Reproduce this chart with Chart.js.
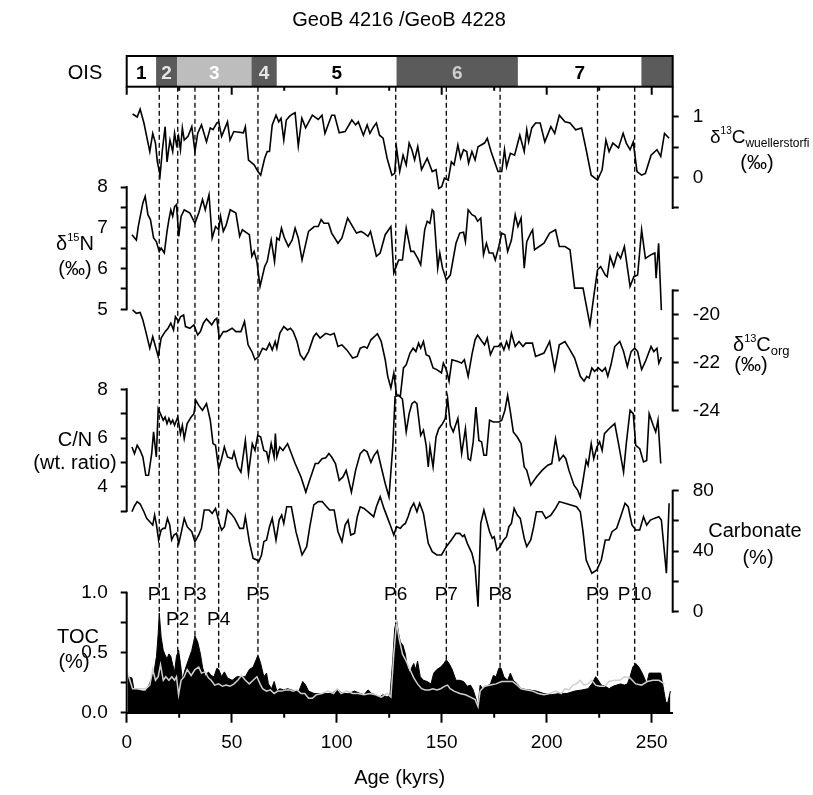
<!DOCTYPE html>
<html>
<head>
<meta charset="utf-8">
<script src="https://cdn.jsdelivr.net/npm/chart.js@4"></script>
<style>
  html, body { margin: 0; padding: 0; background: #fff; }
  canvas { display: block; }
</style>
</head>
<body>
<canvas id="chart" width="813" height="795"></canvas>
<script>
// GeoB 4216 / GeoB 4228 - stacked down-core records against age (kyrs)

// --- data ---------------------------------------------------------------
const wuelAge = [2.8, 5.0, 6.4, 8.2, 11, 12.4, 13.7, 14.6, 15.9, 17, 18.3, 19.2, 20.6, 21.9, 22.8, 23.7, 24.7, 25.6, 26.5, 27.4, 29.2, 31, 32.5, 33.8, 35.6, 38, 39.8, 41.1, 42.9, 43.8, 45.2, 48, 49.2, 51, 55.6, 56.5, 58, 60.7, 62.5, 63.8, 65.7, 66.9, 68, 69.3, 71.1, 72.4, 73.5, 74.8, 76, 77.5, 79, 80.2, 81.7, 83.4, 85.2, 88.4, 91.2, 93, 94.4, 97.6, 99, 101.2, 104, 107.2, 109, 110.3, 112.7, 114.5, 115.8, 117.6, 118.9, 120.4, 122.1, 124, 126.3, 127.6, 128.5, 130, 131.6, 133.1, 134.5, 135.8, 137.1, 138.6, 140.4, 143.1, 145.5, 147.3, 148.6, 150, 151.3, 153.1, 154.6, 155.9, 157.7, 159, 160.4, 161.9, 162.8, 164.4, 165.9, 167.3, 170.4, 171.7, 173.5, 175.4, 176.8, 178.6, 179.9, 180.9, 182.7, 184.7, 187.2, 189.3, 190.5, 191.4, 192.9, 194.7, 196.9, 199.1, 202, 203.8, 206, 208.7, 211.1, 213.8, 216.6, 218.8, 221.2, 224.2, 226.4, 228.2, 229.7, 231.5, 234.2, 236.4, 237.9, 239.7, 241.2, 243, 245.2, 247, 249.7, 252.5, 254.3, 256.1, 258.3];
const wuelVal = [1.05, 1.0, 1.13, 0.90, 0.43, 0.73, 0.57, 0.26, 0.04, 0.46, 0.84, 0.26, 0.62, 0.43, 0.73, 0.54, 0.68, 0.46, 0.82, 0.62, 0.68, 0.84, 0.43, 0.73, 0.87, 0.59, 0.82, 0.79, 0.90, 0.92, 0.68, 0.92, 0.62, 0.76, 0.74, 0.84, 0.29, 0.21, 0.10, 0.04, 0.32, 0.43, 0.43, 0.87, 1.03, 0.92, 0.98, 0.62, 0.95, 1.01, 1.05, 1.07, 0.52, 0.98, 0.82, 1.03, 0.96, 1.03, 0.73, 1.03, 1.03, 0.74, 0.76, 0.95, 0.87, 0.92, 0.70, 0.87, 0.73, 0.84, 0.90, 0.70, 0.65, 0.32, 0.04, 0.07, 0.49, 0.10, 0.37, 0.21, 0.57, 0.46, 0.29, 0.51, 0.13, 0.32, 0.10, 0.13, -0.18, -0.15, -0.01, -0.04, 0.26, 0.21, 0.54, 0.32, 0.46, 0.43, 0.24, 0.43, 0.29, 0.51, 0.57, 0.65, 0.43, 0.24, 0.10, 0.10, 0.46, 0.18, 0.40, 0.37, 0.70, 0.43, 0.79, 0.59, 0.82, 0.90, 0.90, 0.59, 0.84, 0.73, 1.03, 0.92, 0.90, 0.79, 0.82, 0.46, 0.04, -0.04, 0.13, 0.62, 0.43, 0.57, 0.49, 0.73, 0.57, 0.46, 0.59, 0.10, 0.04, 0.07, 0.37, 0.46, 0.35, 0.73, 0.65];

const n15Age = [2.5, 4.6, 5.5, 7.7, 8.8, 10.1, 11.3, 12.8, 14.1, 15.5, 16.4, 17.9, 19.2, 20.1, 21.0, 21.9, 22.8, 23.7, 24.8, 25.9, 27.4, 28.8, 30.1, 32.5, 34.3, 36.1, 37.4, 39.2, 40.7, 42.3, 43.8, 44.7, 46.0, 47.4, 49.3, 52.0, 53.8, 55.1, 58.4, 59.6, 60.7, 62.0, 63.5, 65.7, 66.9, 68.8, 70.4, 71.5, 72.6, 73.7, 75.1, 77.0, 78.8, 80.2, 81.7, 83.5, 86.6, 89.3, 91.2, 92.6, 93.9, 96.1, 97.6, 100.6, 102.5, 105.2, 107.6, 109.4, 111.6, 113.0, 114.9, 116.1, 118.9, 120.7, 123.1, 125.8, 127.2, 129.5, 131.3, 133.1, 135.3, 136.7, 138.6, 140.0, 141.9, 143.1, 144.4, 145.5, 146.2, 148.1, 149.1, 150.4, 152.2, 154.1, 156.8, 158.6, 160.4, 161.3, 162.6, 164.4, 165.9, 167.1, 168.6, 169.9, 171.3, 172.6, 174.4, 175.5, 177.2, 178.6, 180.1, 181.4, 183.2, 185.0, 186.3, 187.8, 189.3, 190.5, 192.4, 193.3, 194.2, 198.7, 201.4, 204.2, 206.0, 208.7, 211.1, 213.3, 217.3, 220.6, 222.4, 224.2, 225.7, 227.9, 228.8, 230.2, 231.9, 233.7, 235.2, 237.0, 239.7, 241.5, 243.3, 245.2, 247.0, 249.7, 251.5, 252.1, 253.3, 254.6];
const n15Val = [6.83, 6.70, 7.03, 7.61, 7.77, 7.32, 7.20, 6.75, 6.66, 6.42, 6.50, 6.38, 6.91, 7.20, 7.44, 7.28, 7.52, 7.57, 6.79, 7.28, 7.44, 7.40, 7.36, 7.11, 7.36, 7.69, 7.44, 7.81, 6.75, 7.03, 6.95, 7.28, 6.91, 7.07, 7.44, 7.36, 6.79, 6.95, 6.83, 6.30, 6.42, 6.17, 5.56, 6.05, 6.17, 6.70, 6.17, 6.75, 6.70, 6.99, 6.75, 6.54, 6.70, 6.99, 6.75, 6.21, 6.91, 7.03, 7.03, 7.20, 7.11, 7.11, 6.87, 6.62, 6.75, 7.24, 7.03, 6.87, 6.91, 6.87, 6.79, 6.91, 6.30, 6.38, 6.83, 7.03, 5.89, 6.21, 6.21, 6.99, 6.42, 6.42, 6.25, 6.09, 6.95, 7.16, 7.11, 7.44, 7.40, 6.01, 6.38, 6.01, 5.72, 5.84, 6.62, 6.87, 6.89, 6.66, 7.44, 7.32, 7.28, 7.16, 7.24, 6.34, 6.62, 6.38, 6.38, 6.21, 6.54, 6.87, 6.83, 6.42, 6.70, 7.32, 7.03, 7.24, 6.01, 6.66, 6.87, 6.95, 6.46, 6.62, 6.87, 6.95, 6.54, 6.54, 6.46, 5.52, 5.52, 4.62, 5.31, 5.97, 6.05, 5.84, 5.80, 6.30, 6.05, 6.38, 6.25, 6.54, 5.56, 5.80, 5.84, 6.95, 6.25, 6.34, 6.38, 5.76, 6.62, 4.98];

const corgAge = [2.8, 4.6, 6.4, 7.7, 9.1, 11, 12.4, 13.7, 15, 16.4, 18.3, 19.7, 21, 22.3, 23.2, 24.7, 25.6, 27.1, 28, 30.1, 32, 33.8, 35.1, 36.5, 38, 40.5, 41.9, 42.9, 44.1, 46, 47.4, 50.2, 52, 54.4, 56.1, 57.8, 59.6, 61.1, 62.9, 64.7, 66.5, 68, 69.3, 70.7, 71.5, 72.9, 74.8, 76.6, 78, 79.3, 81.1, 82.6, 84.4, 86.6, 89, 90.3, 92.1, 94.8, 97, 98.8, 100.6, 102.5, 104.8, 107.6, 109.8, 111.2, 113.1, 114.5, 116.3, 119.4, 121.2, 123.1, 124.3, 125.8, 127.2, 128.5, 130.3, 131.8, 133.1, 134.9, 136.4, 137.7, 139, 140, 141.3, 142.6, 144.1, 145.9, 147.7, 149.9, 150.8, 152.2, 153.5, 154.9, 157.7, 159.5, 160.8, 162.6, 164.4, 165.9, 167.1, 169.2, 170.4, 171.7, 173.2, 175, 176.8, 178.3, 179.6, 180.9, 182, 183.2, 185, 186.8, 188.7, 190, 193.2, 194.7, 198.7, 201.4, 203.8, 206, 208.7, 210.6, 213.3, 216, 217.8, 219.1, 220.2, 221.5, 222.8, 224.6, 226.4, 227.9, 229.1, 230.6, 232.4, 234.8, 236.6, 238.4, 240.2, 241.9, 243.3, 245.2, 247, 249.7, 251, 252.5, 253.4, 254.6];
const corgVal = [-19.82, -19.96, -19.92, -20.24, -20.72, -21.41, -20.93, -21.34, -21.75, -20.99, -20.72, -20.58, -20.37, -20.65, -20.10, -20.30, -20.10, -20.03, -20.51, -20.58, -20.44, -20.86, -20.72, -20.37, -20.19, -20.44, -20.24, -20.17, -20.99, -20.72, -20.72, -20.58, -20.72, -20.72, -20.30, -21.27, -21.55, -21.89, -21.75, -21.41, -21.48, -21.20, -21.48, -21.13, -21.41, -20.79, -20.51, -20.65, -20.58, -20.72, -21.13, -21.68, -21.89, -21.55, -20.93, -20.79, -20.99, -20.79, -20.86, -20.79, -21.34, -21.27, -21.48, -21.82, -21.75, -21.41, -21.34, -21.41, -21.06, -20.81, -21.13, -21.89, -22.58, -23.06, -22.44, -23.34, -23.40, -22.23, -22.10, -21.61, -21.41, -21.55, -21.20, -21.41, -21.13, -21.68, -21.75, -22.23, -22.30, -22.44, -22.03, -22.30, -22.78, -21.89, -21.96, -22.03, -21.89, -22.58, -21.68, -21.06, -20.86, -21.13, -21.27, -20.99, -21.68, -21.34, -21.34, -21.20, -21.48, -21.13, -21.41, -20.79, -21.34, -21.13, -21.34, -21.20, -21.20, -21.75, -21.61, -21.13, -22.30, -21.27, -21.13, -21.41, -21.82, -22.58, -22.78, -22.58, -22.65, -22.23, -22.37, -22.23, -22.37, -22.23, -22.58, -22.10, -21.34, -21.13, -21.55, -22.17, -21.55, -21.41, -21.55, -22.30, -21.96, -21.34, -21.55, -21.41, -22.03, -21.78];

const cnAge = [2.5, 3.7, 5, 6.4, 7.7, 9.1, 10.4, 11.9, 12.8, 14.1, 15, 16.4, 17.4, 18.3, 19.2, 20.1, 21, 21.9, 22.8, 24.3, 25.6, 26.5, 27.4, 28.8, 30.7, 32, 32.9, 34.3, 36.1, 38, 39.8, 41.1, 42.3, 43.8, 45.2, 46.5, 48, 50.2, 51.1, 52.9, 54.4, 56.5, 58, 59.8, 61.1, 62.4, 63.8, 65.3, 66.6, 67.5, 68.8, 70.2, 70.8, 71.5, 72.9, 74.4, 76.6, 78.4, 80.2, 83, 85.3, 87.1, 89.8, 91.2, 93, 94.8, 96.3, 97.6, 99.4, 101.2, 103, 104.5, 105.7, 107, 109, 111.2, 113, 114.5, 116.3, 117.8, 119.4, 121.2, 123.1, 124.9, 126.7, 127.8, 129.5, 131.3, 133.1, 134.5, 135.8, 137.1, 138.2, 140, 141.3, 142.6, 143.6, 144.4, 145.9, 147.3, 148.6, 150.4, 151.7, 152.8, 154.1, 155.5, 157.7, 159.5, 161.3, 162.6, 163.7, 165, 166.3, 167.7, 169, 170.1, 171.3, 172.8, 174.6, 177.2, 178.6, 180.1, 181.4, 182.7, 184.1, 186, 187.8, 189.3, 190.5, 192.4, 195.1, 197.8, 200.5, 202.4, 204.2, 206, 207.9, 209.1, 210.6, 213, 214.8, 216, 217.3, 218.8, 219.7, 221.2, 222.4, 223.9, 225.2, 226.4, 227.5, 229.7, 232.4, 234.2, 236.6, 237.9, 239.7, 241.2, 242.4, 244.3, 246.1, 247.6, 248.8, 250.7, 251.9, 253, 254.3];
const cnVal = [5.63, 5.36, 5.70, 5.49, 5.22, 4.47, 4.47, 5.36, 6.25, 5.22, 7.2, 6.93, 6.73, 6.86, 6.59, 6.80, 6.59, 6.73, 6.52, 6.86, 6.18, 6.52, 5.97, 6.59, 6.86, 7.0, 7.55, 7.34, 7.14, 7.41, 6.73, 5.77, 5.70, 4.74, 5.15, 5.63, 5.22, 5.15, 5.43, 4.81, 4.60, 5.90, 4.54, 5.77, 5.49, 6.11, 6.04, 5.49, 5.43, 5.08, 5.77, 5.22, 6.18, 5.22, 5.63, 5.49, 5.77, 5.36, 4.95, 4.40, 3.78, 4.26, 4.95, 4.95, 5.15, 5.19, 5.36, 5.22, 4.95, 4.26, 4.40, 4.67, 4.26, 3.78, 4.67, 5.36, 5.52, 5.43, 5.0, 5.29, 5.47, 4.81, 4.13, 3.58, 5.63, 7.7, 7.75, 7.6, 6.25, 7.0, 7.41, 7.5, 7.41, 6.11, 6.32, 5.70, 4.81, 5.63, 4.81, 6.04, 6.38, 6.59, 6.80, 7.63, 6.52, 6.25, 6.80, 5.36, 6.38, 5.15, 5.08, 5.84, 7.27, 5.90, 5.84, 5.29, 5.29, 6.73, 6.66, 6.66, 6.73, 7.14, 7.75, 7.07, 6.25, 6.04, 5.77, 4.81, 4.67, 4.06, 4.40, 4.67, 4.88, 4.95, 5.97, 5.08, 5.29, 5.15, 4.67, 4.06, 3.85, 3.58, 4.26, 5.08, 4.88, 5.77, 5.15, 5.63, 5.84, 5.49, 6.18, 6.38, 6.59, 5.77, 4.60, 5.77, 7.14, 7.0, 5.70, 5.56, 5.02, 5.08, 7.0, 6.52, 6.25, 6.73, 4.95];

const carbAge = [2.5, 3.7, 5, 6.4, 8.2, 9.5, 11, 12.4, 13.3, 14.2, 15.2, 16.4, 17.4, 18.3, 19.4, 20.5, 21.4, 22.5, 23.7, 24.8, 25.9, 27.4, 28.8, 31, 32.5, 34.3, 35.6, 36.9, 39.2, 40.7, 42.3, 44.1, 45.2, 46.5, 48, 50.2, 51.4, 53.8, 55.6, 56.5, 58.4, 60.2, 62, 62.9, 64.2, 65.3, 66.6, 68, 69.3, 71.1, 72.6, 73.8, 74.8, 76.2, 78.4, 80.6, 83.5, 85.7, 87.2, 89.1, 91.2, 93.1, 94.5, 96.6, 98.8, 100.6, 102.5, 104, 105.4, 106.7, 108.5, 109.8, 111.2, 113, 115.8, 117.6, 118.9, 120.7, 122.5, 124.3, 125.8, 127.2, 128.5, 130.3, 131.6, 132.7, 134, 135.3, 136.7, 138.2, 139.5, 141.3, 143.6, 145.5, 147.7, 149.9, 152.2, 154.6, 156.8, 158.6, 160, 160.8, 162.2, 164.4, 165.9, 167.3, 168.6, 170.1, 171.3, 172.8, 174.1, 175, 176.3, 177.7, 179.5, 180.9, 182, 183.2, 184.5, 186, 187.4, 189.3, 190.5, 192.4, 193.8, 195.1, 197.8, 199.6, 202, 204.2, 206, 208.7, 211.5, 214.2, 216, 217.3, 218.8, 221.5, 223.9, 226, 227.9, 229.7, 231.1, 233.3, 235.2, 237.3, 238.8, 240.6, 242.4, 244.3, 246.1, 247.6, 249.4, 251.2, 253.4, 254.6, 257, 258.3];
const carbVal = [66.1, 69.9, 72.8, 71.2, 66.1, 61.7, 59.5, 57.3, 63.9, 57.3, 47.4, 54.0, 55.1, 55.1, 61.7, 57.3, 47.4, 50.7, 51.8, 45.2, 51.8, 61.7, 56.2, 52.9, 46.3, 50.7, 55.1, 67.2, 67.2, 65.0, 68.3, 58.4, 54.0, 56.2, 67.2, 63.9, 61.7, 55.1, 55.1, 62.8, 46.3, 35.3, 34.2, 33.1, 37.5, 46.3, 47.4, 56.2, 61.7, 47.4, 60.6, 63.9, 58.4, 69.4, 69.4, 52.9, 37.5, 43.0, 56.2, 70.6, 72.8, 72.8, 70.6, 67.2, 67.2, 52.9, 46.3, 57.3, 60.6, 50.7, 51.8, 62.8, 69.4, 68.3, 65.0, 62.8, 69.4, 76.1, 68.3, 61.7, 56.2, 50.7, 56.2, 55.1, 57.3, 58.4, 62.8, 68.3, 71.7, 66.1, 71.7, 65.0, 45.2, 39.7, 37.5, 37.5, 43.0, 47.4, 51.8, 51.8, 49.6, 50.7, 45.2, 38.6, 29.8, 3.3, 58.4, 67.2, 60.6, 52.9, 48.5, 49.6, 40.8, 43.0, 47.4, 49.6, 56.2, 58.4, 68.3, 63.9, 61.7, 48.5, 43.0, 47.4, 56.2, 66.1, 66.1, 61.7, 63.9, 68.3, 72.8, 71.7, 70.6, 69.4, 66.1, 52.9, 34.2, 25.4, 27.6, 34.2, 47.4, 47.4, 52.9, 55.1, 62.8, 71.7, 69.4, 57.3, 54.0, 54.0, 62.8, 57.3, 60.6, 61.7, 62.8, 60.6, 25.4, 71.7];

// TOC, GeoB 4216 (filled) and GeoB 4228 (grey line)
const tocAge = [0.5, 2.5, 3.4, 5.5, 7.3, 9.1, 10.6, 11.9, 13.2, 14.2, 15, 15.5, 16.4, 17.4, 18.3, 19.2, 20.1, 21, 21.9, 22.8, 23.7, 24.7, 25.6, 26.5, 27.8, 29.2, 31, 32.5, 33.8, 35.1, 36.1, 37.4, 38.9, 40.2, 41.6, 42.9, 43.8, 45.2, 46.5, 48, 50.2, 52.5, 54.7, 56.5, 58.4, 60.2, 61.6, 62.5, 63.8, 65.3, 66.6, 67.5, 69, 70.2, 71.5, 72.9, 74.8, 76.6, 78.4, 80.2, 82, 83.8, 85.2, 86.6, 89.3, 92.1, 94.8, 97.6, 100.3, 103, 105.7, 108.5, 111.2, 113, 114.9, 116.7, 118.5, 120.3, 122.1, 124, 125.4, 126.7, 127.6, 128.5, 129.5, 130.3, 131.6, 132.7, 133.6, 134.9, 135.8, 136.7, 137.6, 138.5, 139.8, 141.3, 143.1, 144.9, 146.2, 147.7, 149.5, 151, 152.2, 153.5, 155, 156.8, 158.6, 160.4, 162.2, 163.7, 165, 166.4, 167.3, 168.3, 169.5, 171.3, 173.2, 174.6, 175.9, 177.2, 178.3, 179.6, 181.4, 182.7, 184.1, 186, 187.8, 191.4, 195.1, 198.7, 202.4, 206, 209.6, 213.3, 216.9, 219.7, 221.5, 223.3, 224.6, 226, 227.9, 229.7, 231.5, 233.3, 235.2, 237, 238.4, 239.7, 241, 242.4, 243.9, 245.2, 246.5, 247.6, 248.8, 251.5, 254.3, 255.2, 256.7, 257.6, 258.9];
const tocVal = [0.30, 0.29, 0.20, 0.19, 0.18, 0.18, 0.23, 0.29, 0.36, 0.47, 0.66, 0.83, 0.63, 0.52, 0.48, 0.45, 0.49, 0.47, 0.40, 0.34, 0.47, 0.52, 0.41, 0.27, 0.36, 0.43, 0.52, 0.64, 0.59, 0.49, 0.38, 0.30, 0.34, 0.31, 0.30, 0.37, 0.36, 0.30, 0.34, 0.29, 0.27, 0.30, 0.30, 0.30, 0.36, 0.38, 0.44, 0.48, 0.41, 0.30, 0.33, 0.24, 0.20, 0.26, 0.18, 0.20, 0.19, 0.20, 0.19, 0.18, 0.18, 0.26, 0.23, 0.18, 0.16, 0.16, 0.16, 0.16, 0.19, 0.16, 0.16, 0.18, 0.16, 0.15, 0.19, 0.16, 0.15, 0.13, 0.15, 0.13, 0.15, 0.44, 0.70, 0.77, 0.66, 0.59, 0.56, 0.49, 0.38, 0.33, 0.38, 0.41, 0.36, 0.43, 0.30, 0.27, 0.26, 0.24, 0.33, 0.36, 0.38, 0.41, 0.44, 0.41, 0.36, 0.27, 0.27, 0.26, 0.22, 0.23, 0.19, 0.11, 0.05, 0.23, 0.20, 0.22, 0.24, 0.31, 0.30, 0.37, 0.37, 0.30, 0.27, 0.33, 0.27, 0.24, 0.20, 0.19, 0.18, 0.16, 0.15, 0.16, 0.16, 0.18, 0.19, 0.20, 0.24, 0.30, 0.27, 0.23, 0.22, 0.20, 0.22, 0.23, 0.24, 0.23, 0.24, 0.30, 0.38, 0.41, 0.38, 0.34, 0.29, 0.24, 0.33, 0.33, 0.33, 0.24, 0.09, 0.08, 0.18];

const toc2Age = [0.3, 1, 2.8, 5.5, 9.1, 11, 12.4, 13.7, 15, 16.1, 17.4, 18.6, 20.1, 21.5, 22.8, 23.7, 24.7, 25.9, 27.4, 28.8, 30.7, 32.5, 34.3, 35.6, 37.4, 38.9, 40.2, 41.9, 43.8, 45.6, 47.4, 49.2, 51.1, 52.9, 54.7, 56.5, 58.4, 60.2, 62, 63.5, 64.7, 66.6, 68.4, 70.2, 72, 73.8, 75.7, 77.5, 79.3, 81.1, 83, 84.8, 86.6, 88.4, 90.3, 93, 95.7, 98.5, 100.3, 102.1, 104.8, 107.6, 110.3, 113, 115.8, 118.5, 121.2, 124, 125.8, 127.2, 128.5, 129.8, 131.3, 133.1, 134.9, 136.7, 138.5, 140.4, 142.2, 144, 145.8, 147.7, 149.5, 151.3, 152.8, 154, 155.9, 158.6, 161.3, 163.7, 165.9, 167.3, 168.3, 170.4, 173.2, 175.9, 178.6, 181.4, 183.7, 186, 187.8, 190.5, 193.3, 196, 198.7, 201.4, 204.2, 206.9, 208.7, 210.6, 212.4, 214.2, 216, 217.8, 219.7, 221.5, 223.3, 225.2, 227.5, 229.7, 232.4, 234.8, 237, 239.7, 242.4, 245.2, 247.9, 250.6, 253.4, 256.1];
const toc2Val = [0.32, 0.30, 0.20, 0.20, 0.20, 0.23, 0.36, 0.27, 0.30, 0.40, 0.27, 0.30, 0.27, 0.30, 0.27, 0.30, 0.15, 0.27, 0.30, 0.36, 0.31, 0.36, 0.38, 0.33, 0.34, 0.29, 0.27, 0.23, 0.24, 0.22, 0.23, 0.22, 0.24, 0.27, 0.31, 0.27, 0.24, 0.27, 0.30, 0.24, 0.20, 0.18, 0.19, 0.16, 0.18, 0.18, 0.19, 0.19, 0.18, 0.19, 0.16, 0.16, 0.12, 0.12, 0.15, 0.16, 0.18, 0.16, 0.20, 0.16, 0.18, 0.16, 0.16, 0.15, 0.16, 0.15, 0.13, 0.16, 0.13, 0.49, 0.75, 0.61, 0.49, 0.43, 0.36, 0.29, 0.24, 0.20, 0.19, 0.19, 0.20, 0.19, 0.20, 0.22, 0.23, 0.20, 0.18, 0.16, 0.15, 0.13, 0.11, 0.05, 0.18, 0.22, 0.23, 0.24, 0.26, 0.26, 0.26, 0.23, 0.20, 0.19, 0.18, 0.16, 0.15, 0.16, 0.18, 0.16, 0.20, 0.19, 0.23, 0.24, 0.27, 0.23, 0.24, 0.27, 0.23, 0.22, 0.22, 0.26, 0.27, 0.27, 0.30, 0.29, 0.24, 0.23, 0.26, 0.27, 0.27, 0.24];

// oxygen isotope stages (boundaries in kyrs)
const oisEdges = [0, 14, 24, 59.4, 71.5, 128.5, 186.3, 245.1, 260];
const oisLabels = ['1', '2', '3', '4', '5', '6', '7', ''];

// productivity events
const pNames = ['P1', 'P2', 'P3', 'P4', 'P5', 'P6', 'P7', 'P8', 'P9', 'P10'];
const pAges = [15.5, 24.3, 32.5, 43.8, 62.5, 128.1, 152.2, 177.8, 224.2, 241.9];

// axis ticks
const xTicks = [0, 50, 100, 150, 200, 250];
const xMinorTicks = [25, 75, 125, 175, 225];
const wuelTicks = [-0.5, 0, 0.5, 1];
const wuelLabels = [0, 1];
const n15Ticks = [5, 5.5, 6, 6.5, 7, 7.5, 8];
const n15Labels = [5, 6, 7, 8];
const corgTicks = [-24, -23, -22, -21, -20, -19];
const corgLabels = [-24, -22, -20];
const cnTicks = [3, 4, 5, 6, 7, 8];
const cnLabels = [4, 6, 8];
const carbTicks = [0, 20, 40, 60, 80];
const carbLabels = [0, 40, 80];
const tocTicks = [0, 0.25, 0.5, 0.75, 1];
const tocLabels = [0, 0.5, 1];

// --- layout -------------------------------------------------------------
const FONT = '"Liberation Sans", Arial, Helvetica, sans-serif';
const PLOT = { left: 126.7, right: 672.7, top: 86.7, bottom: 712.7 };
const OIS_TOP = 56;

// value range of each panel and the pixel rows it occupies
const bands = {
  yWuel: { lo: -0.5, hi: 1.5, yLo: 207.9, yHi: 86.7, side: 'right' },
  yN15: { lo: 5, hi: 8, yLo: 309.3, yHi: 187.0, side: 'left' },
  yCorg: { lo: -24, hi: -19, yLo: 410.5, yHi: 290.25, side: 'right' },
  yCN: { lo: 3, hi: 8, yLo: 511.05, yHi: 389.3, side: 'left' },
  yCarb: { lo: 0, hi: 80, yLo: 611.7, yHi: 490.7, side: 'right' },
  yToc: { lo: 0, hi: 1, yLo: 712.7, yHi: 592.7, side: 'left' },
};

function scaleRange(b) {
  const s = (b.yLo - b.yHi) / (b.hi - b.lo);
  return { min: b.lo - (PLOT.bottom - b.yLo) / s, max: b.hi + (b.yHi - PLOT.top) / s };
}

function yAxis(id, ticks, labels, fmt) {
  const b = bands[id];
  const r = scaleRange(b);
  return {
    type: 'linear',
    position: b.side,
    min: r.min,
    max: r.max,
    afterBuildTicks: a => { a.ticks = ticks.map(v => ({ value: v })); },
    afterFit: a => { a.width = 0; },
    border: { display: false },
    grid: { drawOnChartArea: false, tickLength: 6, tickWidth: 2, tickColor: '#000' },
    ticks: {
      autoSkip: false,
      padding: b.side === 'left' ? 13 : 14,
      color: '#000',
      font: { family: FONT, size: 19 },
      callback: v => labels.includes(v) ? fmt(v) : ''
    }
  };
}

const pts = (ages, vals) => ages.map((a, i) => ({ x: a, y: vals[i] }));

function series(label, ages, vals, axis, extra) {
  return Object.assign({
    label,
    data: pts(ages, vals),
    yAxisID: axis,
    borderColor: '#000',
    borderWidth: 1.6,
    pointRadius: 0,
    tension: 0,
    fill: false
  }, extra || {});
}

// linear lookup of the filled TOC record, used to end the event lines
function tocAt(age) {
  for (let i = 1; i < tocAge.length; i++) {
    if (tocAge[i] >= age) {
      const t = (age - tocAge[i - 1]) / (tocAge[i] - tocAge[i - 1]);
      return tocVal[i - 1] + t * (tocVal[i] - tocVal[i - 1]);
    }
  }
  return tocVal[tocVal.length - 1];
}

// text with super/subscripts: parts = [text, size, baseline shift, bold]
function rich(ctx, parts, x, y, align) {
  let w = 0;
  parts.forEach(p => { ctx.font = `${p[3] ? 'bold ' : ''}${p[1]}px ${FONT}`; w += ctx.measureText(p[0]).width; });
  let cx = align === 'center' ? x - w / 2 : align === 'right' ? x - w : x;
  ctx.textAlign = 'left';
  ctx.textBaseline = 'alphabetic';
  parts.forEach(p => {
    ctx.font = `${p[3] ? 'bold ' : ''}${p[1]}px ${FONT}`;
    ctx.fillText(p[0], cx, y + p[2]);
    cx += ctx.measureText(p[0]).width;
  });
}

const stageFill = { '1': '#ffffff', '2': '#5b5b5b', '3': '#bdbdbd', '4': '#5b5b5b', '5': '#ffffff', '6': '#5b5b5b', '7': '#ffffff', '': '#5b5b5b' };
const stageText = { '1': '#000', '2': '#e6e6e6', '3': '#ffffff', '4': '#e6e6e6', '5': '#000', '6': '#cfcfcf', '7': '#000' };
const lowRow = ['P2', 'P4'];

const decor = {
  id: 'decor',
  // the panel axes have zero width in the layout; widen their boxes so the tick labels are not clipped
  afterLayout(chart) {
    Object.keys(bands).forEach(id => {
      const s = chart.scales[id];
      if (bands[id].side === 'left') s.left = 0; else s.right = chart.width;
    });
  },
  afterDraw(chart) {
    const ctx = chart.ctx;
    const x = chart.scales.x;
    ctx.save();
    ctx.fillStyle = '#000';
    ctx.strokeStyle = '#000';

    // stage bar
    for (let i = 0; i < oisLabels.length; i++) {
      const x0 = x.getPixelForValue(oisEdges[i]);
      const x1 = x.getPixelForValue(oisEdges[i + 1]);
      ctx.fillStyle = stageFill[oisLabels[i]];
      ctx.fillRect(x0, OIS_TOP, x1 - x0, PLOT.top - OIS_TOP);
      if (oisLabels[i]) {
        ctx.fillStyle = stageText[oisLabels[i]];
        rich(ctx, [[oisLabels[i], 19, 0, true]], (x0 + x1) / 2, 79, 'center');
      }
    }
    ctx.lineWidth = 2;
    ctx.strokeRect(x.left, OIS_TOP, x.right - x.left, PLOT.top - OIS_TOP);
    ctx.fillStyle = '#000';
    rich(ctx, [['OIS', 20, 0]], 85, 79, 'center');

    // ticks hanging under the stage bar, minor ticks on the age axis
    ctx.lineWidth = 2;
    ctx.beginPath();
    xTicks.forEach(v => { const p = x.getPixelForValue(v); ctx.moveTo(p, PLOT.top); ctx.lineTo(p, PLOT.top + 8); });
    xMinorTicks.forEach(v => {
      const p = x.getPixelForValue(v);
      ctx.moveTo(p, PLOT.top); ctx.lineTo(p, PLOT.top + 4);
      ctx.moveTo(p, PLOT.bottom); ctx.lineTo(p, PLOT.bottom + 5);
    });
    ctx.stroke();

    // vertical axis lines, limited to each panel
    ctx.beginPath();
    Object.keys(bands).forEach(id => {
      const s = chart.scales[id];
      const b = bands[id];
      const px = b.side === 'left' ? x.left : x.right;
      ctx.moveTo(px, s.getPixelForValue(b.lo) + 1);
      ctx.lineTo(px, s.getPixelForValue(b.hi) - (id === 'yWuel' ? 0 : 1));
    });
    ctx.stroke();

    // event lines and names
    const toc = chart.scales.yToc;
    ctx.lineWidth = 1.3;
    ctx.setLineDash([5, 3]);
    ctx.beginPath();
    pAges.forEach(a => {
      const p = x.getPixelForValue(a);
      ctx.moveTo(p, PLOT.top);
      ctx.lineTo(p, toc.getPixelForValue(tocAt(a)));
    });
    ctx.stroke();
    ctx.setLineDash([]);
    pNames.forEach((n, i) => {
      const p = x.getPixelForValue(pAges[i]);
      rich(ctx, [[n, 19, 0]], p, lowRow.includes(n) ? 624.5 : 599.5, 'center');
    });

    // panel titles
    rich(ctx, [['GeoB 4216 /GeoB 4228', 20, 0]], 399, 26, 'center');
    rich(ctx, [['δ', 20, 0], ['15', 11, -9], ['N', 20, 0]], 75, 250, 'center');
    rich(ctx, [['(‰)', 20, 0]], 75, 275, 'center');
    rich(ctx, [['C/N', 20, 0]], 75, 446, 'center');
    rich(ctx, [['(wt. ratio)', 20, 0]], 75, 469, 'center');
    rich(ctx, [['TOC', 20, 0]], 78, 643, 'center');
    rich(ctx, [['(%)', 20, 0]], 74, 668, 'center');
    rich(ctx, [['δ', 19, 0], ['13', 10, -9], ['C', 19, 0], ['wuellerstorfi', 12, 4]], 710, 143, 'left');
    rich(ctx, [['(‰)', 20, 0]], 757, 169, 'center');
    rich(ctx, [['δ', 20, 0], ['13', 11, -9], ['C', 20, 0], ['org', 13, 4]], 733, 351, 'left');
    rich(ctx, [['(‰)', 20, 0]], 751, 371, 'center');
    rich(ctx, [['Carbonate', 20, 0]], 755, 537, 'center');
    rich(ctx, [['(%)', 20, 0]], 758, 564, 'center');
    ctx.restore();
  }
};

new Chart(document.getElementById('chart'), {
  type: 'line',
  data: {
    datasets: [
      series('TOC GeoB 4228', toc2Age, toc2Val, 'yToc', { borderColor: '#cfcfcf', borderWidth: 1.5 }),
      series('TOC GeoB 4216', tocAge, tocVal, 'yToc', { fill: 'origin', backgroundColor: '#000', borderWidth: 1 }),
      series('δ13C wuellerstorfi', wuelAge, wuelVal, 'yWuel'),
      series('δ15N', n15Age, n15Val, 'yN15'),
      series('δ13C org', corgAge, corgVal, 'yCorg'),
      series('C/N', cnAge, cnVal, 'yCN'),
      series('Carbonate', carbAge, carbVal, 'yCarb')
    ]
  },
  options: {
    responsive: false,
    devicePixelRatio: 1,
    animation: false,
    events: [],
    layout: { padding: { left: PLOT.left, right: 813 - PLOT.right, top: PLOT.top, bottom: 0 } },
    plugins: { legend: { display: false }, tooltip: { enabled: false } },
    scales: {
      x: {
        type: 'linear',
        position: 'bottom',
        min: 0,
        max: 260,
        afterBuildTicks: a => { a.ticks = xTicks.map(v => ({ value: v })); },
        afterFit: a => { a.height = 795 - PLOT.bottom; },
        border: { display: true, color: '#000', width: 2 },
        grid: { drawOnChartArea: false, tickLength: 10, tickWidth: 2, tickColor: '#000' },
        ticks: { padding: 9, color: '#000', font: { family: FONT, size: 19 }, maxRotation: 0 },
        title: { display: true, text: 'Age (kyrs)', color: '#000', font: { family: FONT, size: 20 }, padding: { top: 0, bottom: 5 } }
      },
      yWuel: yAxis('yWuel', wuelTicks, wuelLabels, v => String(v)),
      yN15: yAxis('yN15', n15Ticks, n15Labels, v => String(v)),
      yCorg: yAxis('yCorg', corgTicks, corgLabels, v => String(v)),
      yCN: yAxis('yCN', cnTicks, cnLabels, v => String(v)),
      yCarb: yAxis('yCarb', carbTicks, carbLabels, v => String(v)),
      yToc: yAxis('yToc', tocTicks, tocLabels, v => v.toFixed(1))
    }
  },
  plugins: [decor]
});
</script>
</body>
</html>
